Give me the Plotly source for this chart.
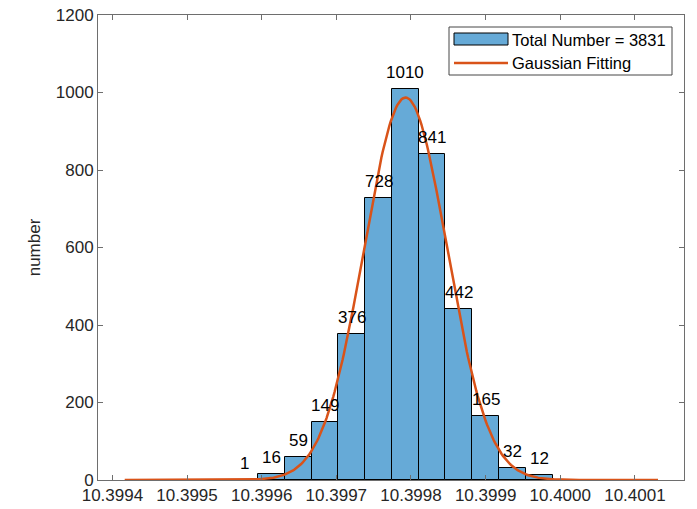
import numpy as np
import plotly.graph_objects as go

# ---- data ----
bin_edges = [10.3995593, 10.3995951, 10.3996310, 10.3996669, 10.3997027,
             10.3997386, 10.3997745, 10.3998103, 10.3998462, 10.3998821,
             10.3999180, 10.3999538, 10.3999897]
counts = [1, 16, 59, 149, 376, 728, 1010, 841, 442, 165, 32, 12]

# Gaussian fit parameters
gauss_amp = 987.0
gauss_mu = 10.3997928
gauss_sigma = 5.55e-5
curve_start = 10.3994165
curve_end = 10.4001310

x_ticks = [10.3994, 10.3995, 10.3996, 10.3997, 10.3998, 10.3999, 10.4000, 10.4001]
y_ticks = [0, 200, 400, 600, 800, 1000, 1200]
total_number = sum(counts)
legend_labels = [f"Total Number = {total_number}", "Gaussian Fitting"]

# ---- derived ----
edges = np.array(bin_edges)
centers = (edges[:-1] + edges[1:]) / 2
widths = edges[1:] - edges[:-1]
cx = np.linspace(curve_start, curve_end, 400)
cy = gauss_amp * np.exp(-0.5 * ((cx - gauss_mu) / gauss_sigma) ** 2)

FONT = "Liberation Sans, Arial, sans-serif"
AX = "rgb(110,110,110)"
TXT = "rgb(38,38,38)"
BAR = "rgb(102,170,215)"
LINE = "rgb(217,83,25)"

W, H = 697, 509
ML, MR, MT, MB = 98, 13, 15, 29
PW, PH = W - ML - MR, H - MT - MB


def px(x):  # window pixel -> paper x
    return (x - ML) / PW


def py(y):  # window pixel -> paper y
    return (H - MB - y) / PH


fig = go.Figure()
fig.add_trace(go.Bar(
    x=centers, y=counts, width=widths,
    marker=dict(color=BAR, line=dict(color="black", width=1)),
    name=legend_labels[0], showlegend=False,
))
fig.add_trace(go.Scatter(
    x=cx, y=cy, mode="lines",
    line=dict(color=LINE, width=2.5),
    name=legend_labels[1], showlegend=False,
))

for xc, c in zip(centers, counts):
    fig.add_annotation(x=xc, y=c, text=str(c), showarrow=False,
                       yanchor="bottom", yshift=5,
                       font=dict(family=FONT, size=17, color="black"))

# legend drawn as a box in paper coordinates
shapes = [
    dict(type="rect", xref="paper", yref="paper",
         x0=px(449), x1=px(672), y0=py(75), y1=py(27),
         fillcolor="white", line=dict(color="rgb(70,70,70)", width=1), layer="above"),
    dict(type="rect", xref="paper", yref="paper",
         x0=px(454), x1=px(508), y0=py(45), y1=py(33),
         fillcolor=BAR, line=dict(color="black", width=1), layer="above"),
    dict(type="line", xref="paper", yref="paper",
         x0=px(454), x1=px(508), y0=py(63), y1=py(63),
         line=dict(color=LINE, width=2.5), layer="above"),
]
for lab, yy in zip(legend_labels, [39.5, 63]):
    fig.add_annotation(xref="paper", yref="paper", x=px(510), y=py(yy),
                       xanchor="left", yanchor="middle", text=lab, showarrow=False,
                       font=dict(family=FONT, size=16.5, color="black"))

fig.update_layout(
    width=W, height=H,
    margin=dict(l=ML, r=MR, t=MT, b=MB, autoexpand=False),
    paper_bgcolor="white", plot_bgcolor="white",
    font=dict(family=FONT, size=17, color=TXT),
    bargap=0, showlegend=False, shapes=shapes,
)
fig.update_xaxes(
    range=[10.3993807, 10.4001658],
    tickvals=x_ticks, tickformat=".4f",
    showgrid=False, zeroline=False, automargin=False,
    showline=True, linecolor=AX, linewidth=1, mirror="ticks",
    ticks="inside", ticklen=5, tickcolor=AX, ticklabeloverflow="allow",
    tickfont=dict(family=FONT, size=17, color=TXT),
)
fig.update_yaxes(
    range=[0, 1200], tickvals=y_ticks,
    showgrid=False, zeroline=False, automargin=False,
    showline=True, linecolor=AX, linewidth=1, mirror="ticks",
    ticks="inside", ticklen=5, tickcolor=AX, ticklabeloverflow="allow",
    tickfont=dict(family=FONT, size=17, color=TXT),
    title=dict(text="number", font=dict(family=FONT, size=17, color=TXT), standoff=10),
)

# remove the page's default body margin so the figure fills the window
fig.write_html("out.html",
               config={"displayModeBar": False},
               post_script="document.body.style.margin='0';document.body.style.overflow='hidden';")
